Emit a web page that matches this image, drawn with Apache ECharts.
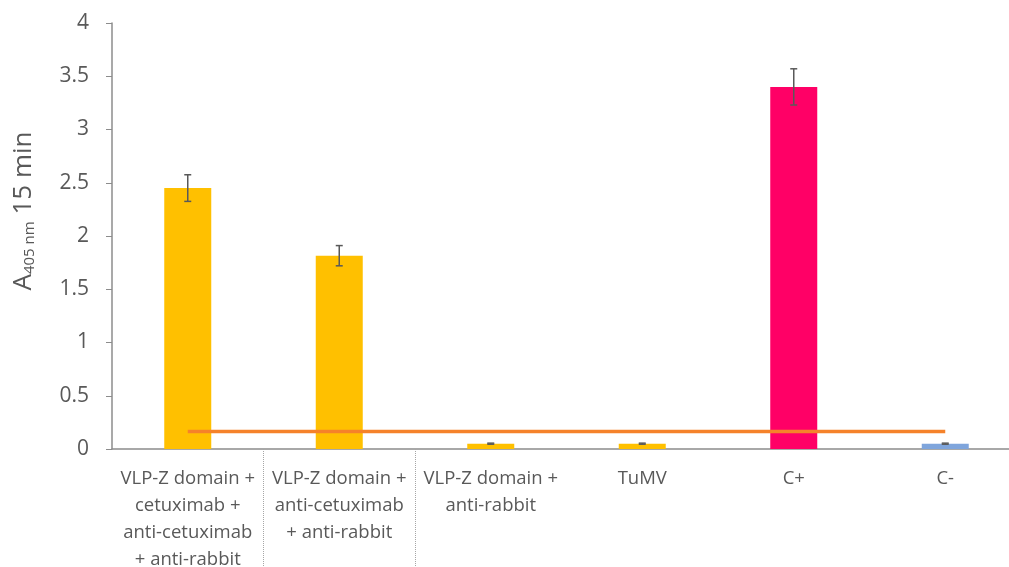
<!DOCTYPE html>
<html><head><meta charset="utf-8">
<script src="https://cdn.jsdelivr.net/npm/echarts@6/dist/echarts.min.js"></script>
<style>html,body{margin:0;padding:0;background:#fff}#c{width:1009px;height:567px}</style>
</head><body><div id="c"></div>
<script>
var categories = [
  "VLP-Z domain +\ncetuximab +\nanti-cetuximab\n+ anti-rabbit",
  "VLP-Z domain +\nanti-cetuximab\n+ anti-rabbit",
  "VLP-Z domain +\nanti-rabbit",
  "TuMV",
  "C+",
  "C-"
];
var values = [2.45, 1.815, 0.05, 0.05, 3.40, 0.05];
var errors = [0.125, 0.095, 0.005, 0.005, 0.17, 0.005];
var barColors = ["#FFC000", "#FFC000", "#FFC000", "#FFC000", "#FF0066", "#7FA5DC"];
var cutoff = [0.165, 0.165, 0.165, 0.165, 0.165, 0.165];
var yTicks = [0, 0.5, 1, 1.5, 2, 2.5, 3, 3.5, 4];
var yTitle = ['A', '405 nm', ' 15 min'];

var chart = echarts.init(document.getElementById('c'));
var font = '"Open Sans", Lato, sans-serif';
chart.setOption({
  animation: false,
  grid: { left: 112, right: -12, top: 23, bottom: 118, containLabel: false, outerBoundsMode: 'none' },
  graphic: [{
    type: 'text', x: 24, y: 211, rotation: Math.PI / 2,
    style: {
      text: '{a|' + yTitle[0] + '}{s|' + yTitle[1] + '}{a|' + yTitle[2] + '}',
      align: 'center', verticalAlign: 'middle', fill: '#595959',
      rich: {
        a: { fontSize: 26, fill: '#595959', color: '#595959', fontFamily: font, verticalAlign: 'bottom' },
        s: { fontSize: 15, fill: '#595959', color: '#595959', fontFamily: font, padding: [9, 0, 0, 0], verticalAlign: 'bottom' }
      }
    }
  }],
  xAxis: {
    type: 'category',
    data: categories,
    axisLine: { lineStyle: { color: '#8C8C8C', width: 1.5 } },
    axisTick: {
      show: true, length: 118, inside: false,
      interval: function (i) { return i === 1 || i === 2; },
      lineStyle: { color: '#A6A6A6', type: 'dotted', width: 1 }
    },
    axisLabel: { interval: 0, color: '#595959', fontSize: 18.5, lineHeight: 27, margin: 16, fontFamily: font }
  },
  yAxis: {
    type: 'value', min: yTicks[0], max: yTicks[yTicks.length - 1], interval: 0.5,
    axisLine: { show: true, lineStyle: { color: '#8C8C8C', width: 1.5 } },
    axisTick: { show: true, length: 6, lineStyle: { color: '#8C8C8C' } },
    splitLine: { show: false },
    axisLabel: { color: '#595959', fontSize: 21, margin: 23, fontFamily: font }
  },
  series: [
    {
      type: 'bar', barWidth: 47,
      data: values.map(function (v, i) { return { value: v, itemStyle: { color: barColors[i] } }; }),
      z: 2
    },
    {
      type: 'custom', z: 5,
      data: values.map(function (v, i) { return [i, v, errors[i]]; }),
      renderItem: function (params, api) {
        var x = api.value(0), v = api.value(1), e = api.value(2);
        var top = api.coord([x, v + e]), bot = api.coord([x, v - e]);
        var w = 3.5;
        var st = { stroke: '#595959', lineWidth: 1.5 };
        return { type: 'group', children: [
          { type: 'line', shape: { x1: top[0], y1: top[1], x2: bot[0], y2: bot[1] }, style: st },
          { type: 'line', shape: { x1: top[0] - w, y1: top[1], x2: top[0] + w, y2: top[1] }, style: st },
          { type: 'line', shape: { x1: bot[0] - w, y1: bot[1], x2: bot[0] + w, y2: bot[1] }, style: st }
        ] };
      }
    },
    {
      type: 'line', data: cutoff, showSymbol: false, symbol: 'none', z: 4,
      lineStyle: { color: '#F5822A', width: 3.5 }
    }
  ]
});
</script></body></html>
